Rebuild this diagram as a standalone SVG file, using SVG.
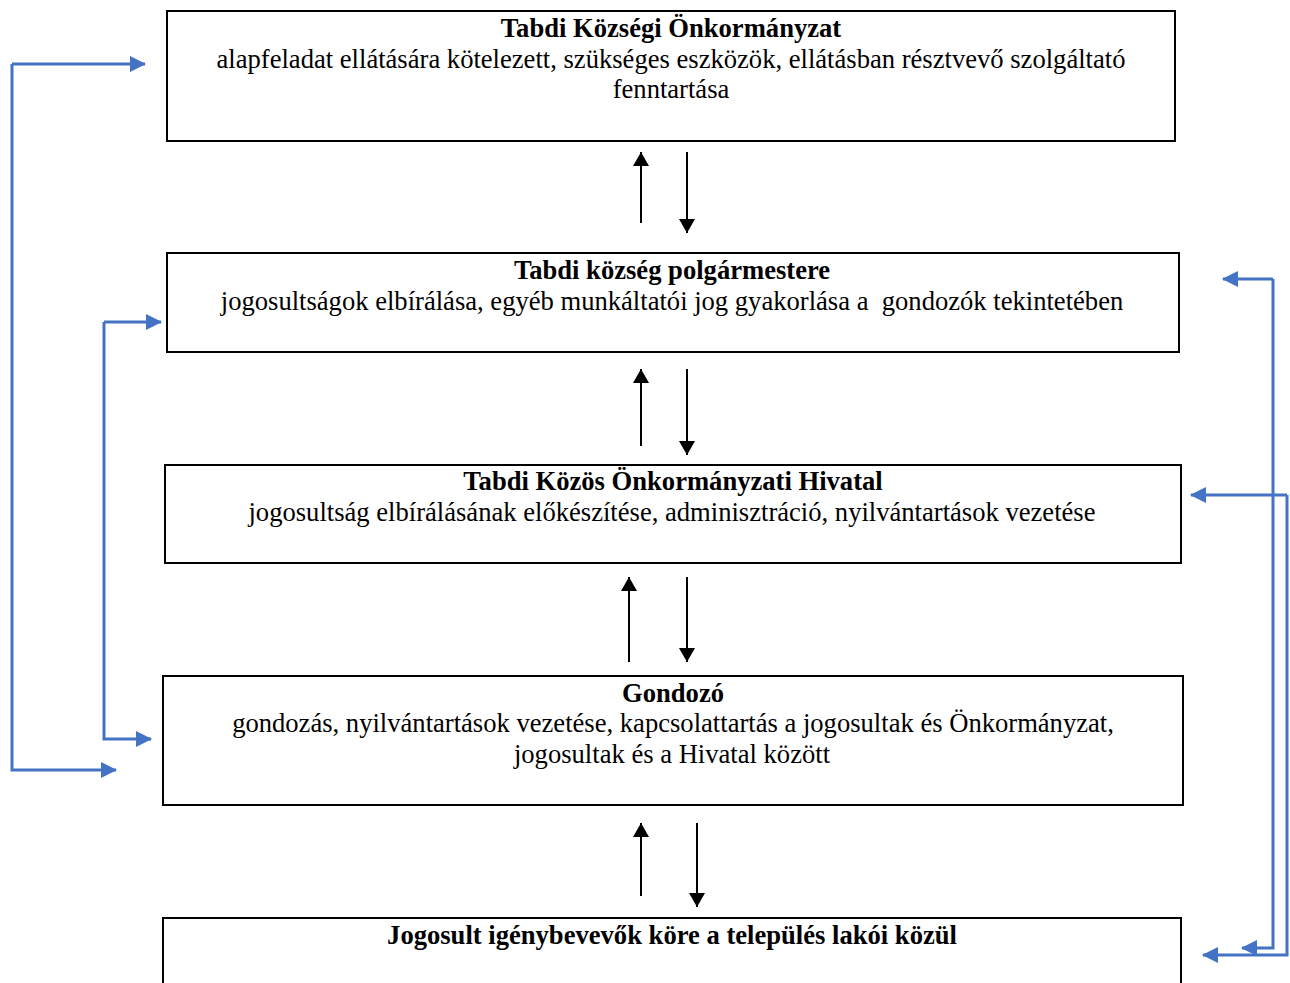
<svg xmlns="http://www.w3.org/2000/svg" width="1290" height="983" viewBox="0 0 1290 983">
<style>
.box{fill:#fff;stroke:#000;stroke-width:2}
text{font-family:"Liberation Serif","Times New Roman",serif;font-size:26.6px;fill:#000;text-anchor:middle;white-space:pre}
.t{font-weight:bold}
.blk{stroke:#000;stroke-width:2;fill:none}
.blu{stroke:#4472C4;stroke-width:3;fill:none}
</style>
<defs>
<marker id="ah" markerUnits="userSpaceOnUse" markerWidth="14" markerHeight="16" refX="14" refY="8" orient="auto">
<path d="M0,0 L14,8 L0,16 Z" fill="#000"/>
</marker>
<marker id="bh" markerUnits="userSpaceOnUse" markerWidth="16" markerHeight="16" refX="15" refY="8" orient="auto">
<path d="M0,0 L16,8 L0,16 Z" fill="#4472C4"/>
</marker>
</defs>
<g id="connectors">
<line class="blk" x1="641" y1="223" x2="641" y2="152" marker-end="url(#ah)"/>
<line class="blk" x1="687" y1="152" x2="687" y2="233" marker-end="url(#ah)"/>
<line class="blk" x1="641" y1="446" x2="641" y2="369" marker-end="url(#ah)"/>
<line class="blk" x1="687" y1="369" x2="687" y2="455" marker-end="url(#ah)"/>
<line class="blk" x1="629" y1="662" x2="629" y2="577" marker-end="url(#ah)"/>
<line class="blk" x1="687" y1="577" x2="687" y2="662" marker-end="url(#ah)"/>
<line class="blk" x1="641" y1="896" x2="641" y2="823" marker-end="url(#ah)"/>
<line class="blk" x1="697" y1="823" x2="697" y2="907" marker-end="url(#ah)"/>
<path class="blu" d="M12,64 H145" marker-end="url(#bh)"/>
<path class="blu" d="M12,64 V770 H116" marker-end="url(#bh)"/>
<path class="blu" d="M104,322 H161" marker-end="url(#bh)"/>
<path class="blu" d="M104,322 V739 H151" marker-end="url(#bh)"/>
<path class="blu" d="M1273,279 H1223" marker-end="url(#bh)"/>
<path class="blu" d="M1273,279 V948 H1242" marker-end="url(#bh)"/>
<path class="blu" d="M1287,495 H1191" marker-end="url(#bh)"/>
<path class="blu" d="M1287,495 V955 H1203" marker-end="url(#bh)"/>
</g>
<g id="n1">
<rect class="box" x="167" y="11" width="1008" height="130"/>
<text class="t" x="671" y="37">Tabdi Községi Önkormányzat</text>
<text x="671" y="68">alapfeladat ellátására kötelezett, szükséges eszközök, ellátásban résztvevő szolgáltató</text>
<text x="671" y="98">fenntartása</text>
</g>
<g id="n2">
<rect class="box" x="167" y="253" width="1012" height="99"/>
<text class="t" x="672" y="279">Tabdi község polgármestere</text>
<text x="672" y="310">jogosultságok elbírálása, egyéb munkáltatói jog gyakorlása a  gondozók tekintetében</text>
</g>
<g id="n3">
<rect class="box" x="165" y="465" width="1016" height="98"/>
<text class="t" x="673" y="490">Tabdi Közös Önkormányzati Hivatal</text>
<text x="672" y="521">jogosultság elbírálásának előkészítése, adminisztráció, nyilvántartások vezetése</text>
</g>
<g id="n4">
<rect class="box" x="163" y="676" width="1020" height="129"/>
<text class="t" x="673" y="702">Gondozó</text>
<text x="673" y="732">gondozás, nyilvántartások vezetése, kapcsolattartás a jogosultak és Önkormányzat,</text>
<text x="672" y="763">jogosultak és a Hivatal között</text>
</g>
<g id="n5">
<rect class="box" x="163" y="918" width="1018" height="80"/>
<text class="t" x="672" y="944">Jogosult igénybevevők köre a település lakói közül</text>
</g>
</svg>
